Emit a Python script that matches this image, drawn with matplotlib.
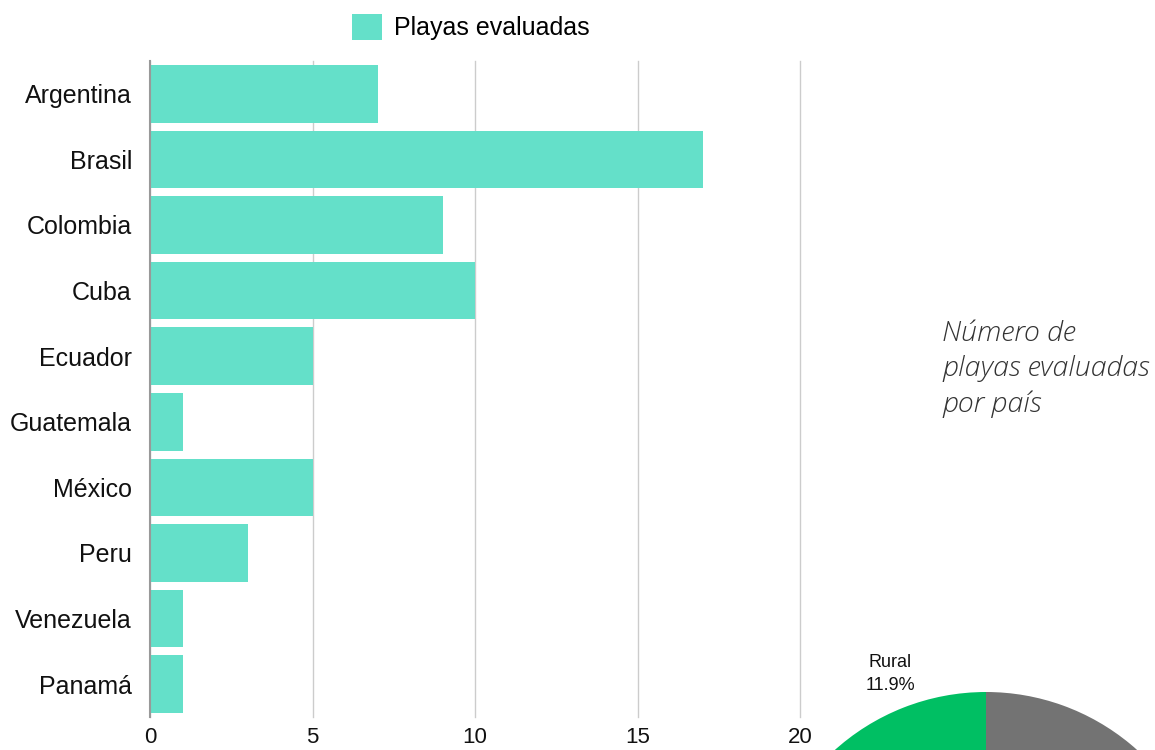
import matplotlib.pyplot as plt
from matplotlib.patches import Patch

paises = ['Argentina', 'Brasil', 'Colombia', 'Cuba', 'Ecuador', 'Guatemala',
          'México', 'Peru', 'Venezuela', 'Panamá']
playas = [7, 17, 9, 10, 5, 1, 5, 3, 1, 1]
x_ticks = [0, 5, 10, 15, 20]

pie_labels = ['Rural', '']
pie_values = [11.9, 88.1]

BAR_COLOR = '#64e0c9'

plt.rcParams['font.family'] = ['Liberation Sans', 'DejaVu Sans']

fig = plt.figure(figsize=(11.55, 7.5), dpi=100)

# bar chart
ax = fig.add_axes([150 / 1155, 1 - 717 / 750, 650 / 1155, 656 / 750])
ypos = list(range(len(paises)))
ax.barh(ypos, playas, height=0.88, color=BAR_COLOR, zorder=3)
ax.set_ylim(len(paises) - 0.5, -0.5)
ax.set_xlim(0, 20)
ax.set_yticks(ypos)
ax.set_yticklabels(paises, fontsize=18, color='#111111')
ax.set_xticks(x_ticks)
ax.set_xticklabels([str(t) for t in x_ticks], fontsize=16, color='#111111')
ax.tick_params(length=0, pad=13, axis='y')
ax.tick_params(length=0, pad=7, axis='x')
ax.grid(axis='x', color='#cccccc', linewidth=1, zorder=0)
for gl in ax.get_xgridlines():
    gl.set_clip_on(False)
for s in ['top', 'right', 'bottom']:
    ax.spines[s].set_visible(False)
ax.spines['left'].set_color('#999999')
ax.spines['left'].set_linewidth(1.5)
ax.spines['left'].set_zorder(4)

fig.legend(handles=[Patch(facecolor=BAR_COLOR, label='Playas evaluadas')],
           loc='center', bbox_to_anchor=(471 / 1155, 1 - 27 / 750),
           frameon=False, fontsize=18, handlelength=1.2, handleheight=1.2,
           handletextpad=0.5)

fig.text(942 / 1155, 1 - 320 / 750, 'Número de\nplayas evaluadas\npor país',
         fontsize=20.5, fontfamily=['Open Sans', 'DejaVu Sans'], style='italic',
         fontweight='light', color='#333333', va='top', ha='left',
         linespacing=1.38)

# partial pie at the bottom right
r = 226
cx, cy = 986, 918
pax = fig.add_axes([(cx - r) / 1155, 1 - (cy + r) / 750, 2 * r / 1155, 2 * r / 750])
labels = [f'{n}\n{v}%' if n else '' for n, v in zip(pie_labels, pie_values)]
wedges, texts = pax.pie(pie_values, labels=labels, startangle=90, counterclock=True,
                        colors=['#00bf63', '#737373'], labeldistance=1.16,
                        textprops={'fontsize': 13, 'color': '#111111'},
                        wedgeprops={'linewidth': 0})
for t in texts:
    t.set_ha('center')
    t.set_va('center')
    t.set_multialignment('center')
    t.set_linespacing(1.5)
pax.set_xlim(-1, 1)
pax.set_ylim(-1, 1)

fig.savefig('out.png', dpi=100)
